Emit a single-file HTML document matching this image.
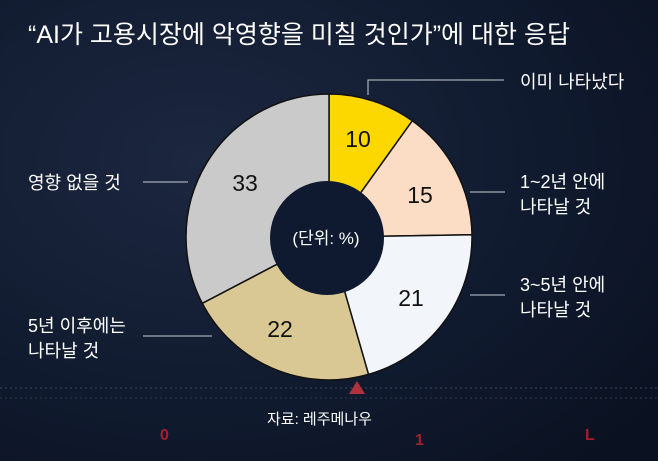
<!DOCTYPE html>
<html><head><meta charset="utf-8"><style>
body{margin:0;width:658px;height:461px;overflow:hidden;background:#0c1424;}
svg{display:block;font-family:"Liberation Sans","Noto Sans CJK KR",sans-serif;}
</style></head><body>
<svg width="658" height="461" viewBox="0 0 658 461">
<defs>
<radialGradient id="bg" cx="0.3" cy="0.35" r="0.9">
<stop offset="0" stop-color="#1c2740"/><stop offset="0.6" stop-color="#101a2e"/><stop offset="1" stop-color="#0a1120"/>
</radialGradient>
</defs>
<rect width="658" height="461" fill="url(#bg)"/>
<line x1="0" y1="388" x2="658" y2="388" stroke="#3a4660" stroke-dasharray="2,3"/>
<line x1="0" y1="398" x2="658" y2="398" stroke="#2c3850" stroke-dasharray="2,3"/>
<text x="160" y="440" fill="#a0202c" font-size="16" font-weight="bold">0</text>
<text x="415" y="445" fill="#a0202c" font-size="16" font-weight="bold">1</text>
<text x="585" y="440" fill="#a0202c" font-size="16" font-weight="bold">L</text>
<text x="28" y="43" fill="#fff" font-size="25">“AI가 고용시장에 악영향을 미칠 것인가”에 대한 응답</text>
<g transform="translate(329,237)">
<g stroke="#111" stroke-width="1.5">
<path d="M0,0 L0,-143 A143,143 0 0 1 83.3,-116.2 Z" fill="#fdd800"/>
<path d="M0,0 L83.3,-116.2 A143,143 0 0 1 143,-2.2 Z" fill="#fbdcc5"/>
<path d="M0,0 L143,-2.2 A143,143 0 0 1 39.5,137.4 Z" fill="#f2f5fa"/>
<path d="M0,0 L39.5,137.4 A143,143 0 0 1 -126.7,66.3 Z" fill="#d9c894"/>
<path d="M0,0 L-126.7,66.3 A143,143 0 0 1 0,-143 Z" fill="#cacaca"/>
</g>
<circle cx="-2" cy="1" r="57" fill="#0f1a30"/>
</g>
<g font-size="23" fill="#111" text-anchor="middle">
<text x="358" y="147">10</text>
<text x="420" y="203">15</text>
<text x="411" y="306">21</text>
<text x="280" y="337">22</text>
<text x="245" y="191">33</text>
</g>
<text x="326" y="244" fill="#fff" font-size="17" text-anchor="middle">(단위: %)</text>
<g stroke="#c8ccd4" stroke-width="1" fill="none">
<polyline points="368,95 368,80 504,80"/>
<line x1="470" y1="192" x2="505" y2="192"/>
<line x1="470" y1="295" x2="505" y2="295"/>
<line x1="143" y1="182" x2="188" y2="182"/>
<line x1="143" y1="336" x2="212" y2="336"/>
</g>
<g fill="#fff" font-size="18">
<text x="520" y="88">이미 나타났다</text>
<text x="520" y="188">1~2년 안에</text>
<text x="520" y="213">나타날 것</text>
<text x="520" y="291">3~5년 안에</text>
<text x="520" y="316">나타날 것</text>
<text x="28" y="189">영향 없을 것</text>
<text x="28" y="332">5년 이후에는</text>
<text x="28" y="357">나타날 것</text>
</g>
<polygon points="357,381 349,394 365,394" fill="#b0303c"/>
<text x="267" y="424" fill="#fff" font-size="15">자료: 레주메나우</text>
</svg>
</body></html>
